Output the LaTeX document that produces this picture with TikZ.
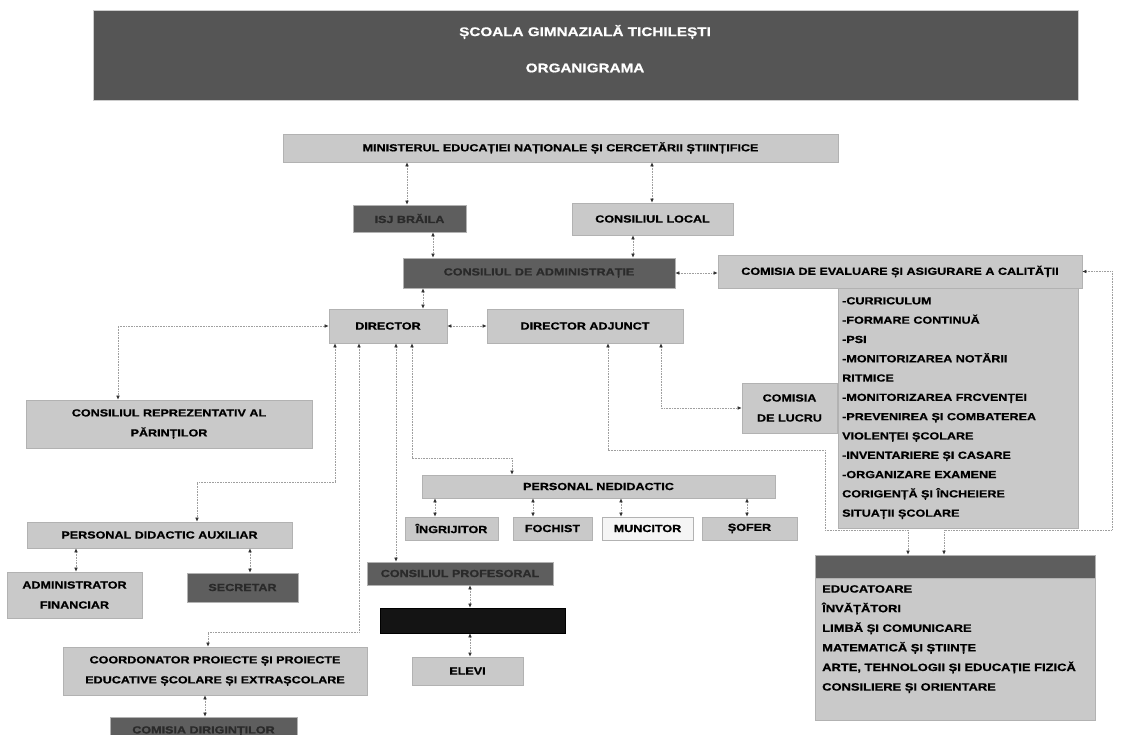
\documentclass[tikz,border=0pt]{standalone}
\usepackage{fontspec}
\setmainfont[FakeStretch=1.22, BoldFeatures={FakeBold=0.8}]{Liberation Sans}
\usetikzlibrary{arrows.meta}
\definecolor{lightbox}{HTML}{C9C9C9}
\definecolor{darkbox}{HTML}{5E5E5E}
\definecolor{darktext}{HTML}{2A2A2A}
\definecolor{banner}{HTML}{555555}
\newcommand\mybox[7]{\node[#2, minimum width={(#5-#3)*1pt}, minimum height={(#6-#4)*1pt}] (#1) at ({(#3+#5)/2},{(#4+#6)/2}) {#7};}
\tikzset{
  box/.style={draw=gray!60, line width=0.7pt, fill=lightbox, inner sep=0pt, align=center, text=black,
    font=\bfseries\fontsize{10.3}{20}\selectfont},
  dbox/.style={box, fill=darkbox, text=darktext},
  blackbox/.style={box, fill=black!92, draw=black},
  conn/.style={densely dotted, gray!75, line width=0.6pt,
    {Latex[length=4pt,width=3.6pt,black!80]}-{Latex[length=4pt,width=3.6pt,black!80]}},
  listtext/.style={anchor=north west, inner sep=0pt, align=left, text=black,
    font=\bfseries\fontsize{10.3}{19.3}\selectfont}
}
\begin{document}
\begin{tikzpicture}[x=1pt,y=-1pt]
\useasboundingbox (0,0) rectangle (1124,735);
\fill[white] (0,0) rectangle (1124,735);
% banner
\mybox{banner}{box, fill=banner, draw=gray!40}{93}{10}{1078}{100}{}
\node[text=white, font=\bfseries\fontsize{12.5}{14}\selectfont] (title) at (585,32) {ȘCOALA GIMNAZIALĂ TICHILEȘTI};
\node[text=white, font=\bfseries\fontsize{12.5}{14}\selectfont] (org) at (585,68) {ORGANIGRAMA};
% top level
\mybox{min}{box}{283}{134}{838}{162}{MINISTERUL EDUCAȚIEI NAȚIONALE ȘI CERCETĂRII ȘTIINȚIFICE}
\mybox{isj}{dbox}{353}{205}{466}{232}{ISJ BRĂILA}
\mybox{cl}{box}{572}{203}{733}{235}{CONSILIUL LOCAL}
\mybox{ca}{dbox}{403}{258}{675}{288}{CONSILIUL DE ADMINISTRAȚIE}
\mybox{cea}{box}{718}{255}{1082}{288}{COMISIA DE EVALUARE ȘI ASIGURARE A CALITĂȚII}
\mybox{list}{box}{838}{288}{1078}{528}{}
\node[listtext] (listtxt) at (842,297) {-CURRICULUM\\-FORMARE CONTINUĂ\\-PSI\\-MONITORIZAREA NOTĂRII\\RITMICE\\-MONITORIZAREA FRCVENȚEI\\-PREVENIREA ȘI COMBATEREA\\VIOLENȚEI ȘCOLARE\\-INVENTARIERE ȘI CASARE\\-ORGANIZARE EXAMENE\\CORIGENȚĂ ȘI ÎNCHEIERE\\SITUAȚII ȘCOLARE};
\mybox{dir}{box}{329}{309}{447}{343}{DIRECTOR}
\mybox{da}{box}{487}{309}{683}{343}{DIRECTOR ADJUNCT}
\mybox{crp}{box}{26}{400}{312}{448}{CONSILIUL REPREZENTATIV AL\\PĂRINȚILOR}
\mybox{cdl}{box}{742}{383}{837}{433}{COMISIA\\DE LUCRU}
% personal nedidactic
\mybox{pn}{box}{422}{475}{775}{498}{PERSONAL NEDIDACTIC}
\mybox{ingr}{box}{405}{517}{498}{540}{ÎNGRIJITOR}
\mybox{foch}{box}{513}{517}{592}{540}{FOCHIST}
\mybox{munc}{box, fill=gray!8}{602}{517}{693}{540}{MUNCITOR}
\mybox{sofer}{box}{702}{517}{797}{540}{ȘOFER}
% left
\mybox{pda}{box}{27}{522}{292}{548}{PERSONAL DIDACTIC AUXILIAR}
\mybox{af}{box}{7}{572}{142}{618}{ADMINISTRATOR\\FINANCIAR}
\mybox{sec}{dbox}{187}{573}{298}{602}{SECRETAR}
\mybox{coord}{box}{63}{647}{367}{695}{COORDONATOR PROIECTE ȘI PROIECTE\\EDUCATIVE ȘCOLARE ȘI EXTRAȘCOLARE}
\mybox{cdir}{dbox}{110}{717}{297}{745}{COMISIA DIRIGINȚILOR}
% middle bottom
\mybox{cp}{dbox}{367}{562}{553}{585}{CONSILIUL PROFESORAL}
\mybox{blk}{blackbox}{380}{608}{565}{633}{}
\mybox{elevi}{box}{412}{657}{523}{685}{ELEVI}
% catedre
\mybox{cat}{box}{815}{555}{1095}{720}{}
\mybox{cath}{dbox}{815}{555}{1095}{578}{}
\node[listtext, font=\bfseries\fontsize{10.6}{19.6}\selectfont] (cattxt) at (822,585) {EDUCATOARE\\ÎNVĂȚĂTORI\\LIMBĂ ȘI COMUNICARE\\MATEMATICĂ ȘI ȘTIINȚE\\ARTE, TEHNOLOGII ȘI EDUCAȚIE FIZICĂ\\CONSILIERE ȘI ORIENTARE};
% connectors
\draw[conn] (min.south -| 407,0) -- (isj.north -| 407,0);
\draw[conn] (min.south -| 652,0) -- (cl.north -| 652,0);
\draw[conn] (isj.south -| 433,0) -- (ca.north -| 433,0);
\draw[conn] (cl.south -| 633,0) -- (ca.north -| 633,0);
\draw[conn] (ca.east) -- (cea.west |- ca.east);
\draw[conn] (ca.south -| 423,0) -- (dir.north -| 423,0);
\draw[conn] (dir.east) -- (da.west);
\draw[conn] (dir.west) -| (crp.north -| 118,0);
\draw[conn] (dir.south -| 335,0) -- (335,482) -| (pda.north -| 197,0);
\draw[conn] (dir.south -| 359,0) -- (359,632) -| (coord.north -| 208,0);
\draw[conn] (dir.south -| 396,0) -- (cp.north -| 396,0);
\draw[conn] (dir.south -| 412,0) -- (412,458) -| (pn.north -| 512,0);
\draw[conn] (pn.south -| 435,0) -- (ingr.north -| 435,0);
\draw[conn] (pn.south -| 533,0) -- (foch.north -| 533,0);
\draw[conn] (pn.south -| 621,0) -- (munc.north -| 621,0);
\draw[conn] (pn.south -| 747,0) -- (sofer.north -| 747,0);
\draw[conn] (pda.south -| 76,0) -- (af.north -| 76,0);
\draw[conn] (pda.south -| 250,0) -- (sec.north -| 250,0);
\draw[conn] (coord.south -| 205,0) -- (cdir.north -| 205,0);
\draw[conn] (cp.south -| 470,0) -- (blk.north -| 470,0);
\draw[conn] (blk.south -| 470,0) -- (elevi.north -| 470,0);
\draw[conn] (da.south -| 661,0) |- (cdl.west);
\draw[conn] (da.south -| 608,0) -- (608,450) -| (825,530) -| (cat.north -| 908,0);
\draw[conn] (cea.east) -| (1112,530) -| (cat.north -| 944,0);
\end{tikzpicture}
\end{document}
